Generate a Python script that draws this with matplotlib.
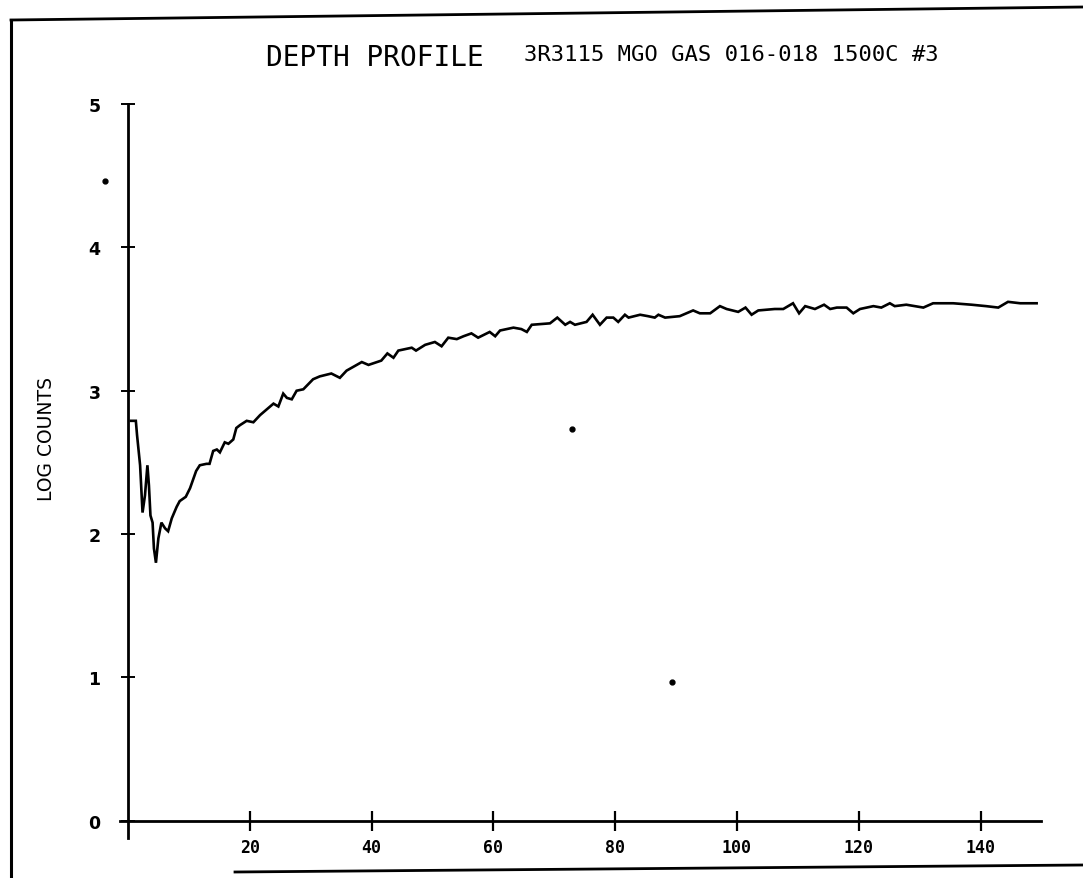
import matplotlib
matplotlib.use("Agg")
import matplotlib.pyplot as plt
from matplotlib.lines import Line2D

# ---- data ----
depth = [0.5, 1.3, 1.5, 2.0, 2.25, 2.4, 2.8, 3.2, 3.45, 3.7,
         4.05, 4.27, 4.6, 5.0, 5.5, 6.1, 6.6, 7.2, 8.0, 8.5,
         9.5, 10.2, 10.7, 11.2, 11.8, 12.9, 13.4, 14.0, 14.6, 15.1,
         15.9, 16.5, 17.3, 17.8, 18.4, 19.5, 20.6, 21.7, 22.8, 23.9,
         24.7, 25.5, 26.1, 26.9, 27.7, 28.8, 30.4, 31.5, 33.4, 34.8,
         35.9, 38.4, 39.5, 41.6, 42.6, 43.6, 44.4, 46.6, 47.3, 48.8,
         50.4, 51.5, 52.6, 54.0, 55.1, 56.4, 57.5, 59.4, 60.3, 61.1,
         63.3, 64.6, 65.5, 66.3, 69.3, 70.5, 71.8, 72.6, 73.4, 75.3,
         76.3, 77.5, 78.6, 79.7, 80.5, 81.6, 82.2, 84.1, 85.4, 86.5,
         87.1, 88.2, 90.6, 92.8, 93.9, 95.6, 97.2, 98.3, 100.2, 101.4,
         102.4, 103.5, 106.2, 107.6, 109.2, 110.2, 111.2, 112.8, 114.3, 115.3,
         116.4, 118.0, 119.1, 120.2, 122.4, 123.7, 125.1, 125.9, 127.8, 129.2,
         130.6, 132.2, 133.8, 135.5, 138.5, 140.9, 142.9, 144.5, 146.5, 149.2]

log_counts = [2.79, 2.79, 2.69, 2.48, 2.27, 2.15, 2.27, 2.48, 2.34, 2.13,
              2.08, 1.90, 1.80, 1.97, 2.08, 2.04, 2.02, 2.11, 2.19, 2.23,
              2.26, 2.32, 2.38, 2.44, 2.48, 2.49, 2.49, 2.58, 2.59, 2.57,
              2.64, 2.63, 2.66, 2.74, 2.76, 2.79, 2.78, 2.83, 2.87, 2.91,
              2.89, 2.98, 2.95, 2.94, 3.00, 3.01, 3.08, 3.10, 3.12, 3.09,
              3.14, 3.20, 3.18, 3.21, 3.26, 3.23, 3.28, 3.30, 3.28, 3.32,
              3.34, 3.31, 3.37, 3.36, 3.38, 3.40, 3.37, 3.41, 3.38, 3.42,
              3.44, 3.43, 3.41, 3.46, 3.47, 3.51, 3.46, 3.48, 3.46, 3.48,
              3.53, 3.46, 3.51, 3.51, 3.48, 3.53, 3.51, 3.53, 3.52, 3.51,
              3.53, 3.51, 3.52, 3.56, 3.54, 3.54, 3.59, 3.57, 3.55, 3.58,
              3.53, 3.56, 3.57, 3.57, 3.61, 3.54, 3.59, 3.57, 3.60, 3.57,
              3.58, 3.58, 3.54, 3.57, 3.59, 3.58, 3.61, 3.59, 3.60, 3.59,
              3.58, 3.61, 3.61, 3.61, 3.60, 3.59, 3.58, 3.62, 3.61, 3.61]

# stray specks on the scanned plot
speck_x = [-3.8, 72.9, 89.3]
speck_y = [4.46, 2.73, 0.97]

x_ticks = [20, 40, 60, 80, 100, 120, 140]
y_ticks = [0, 1, 2, 3, 4, 5]

title_main = "DEPTH PROFILE"
title_sub = "3R3115 MGO GAS 016-018 1500C #3"
y_label = "LOG COUNTS"

# ---- figure ----
W, H = 1083, 879
fig = plt.figure(figsize=(W / 100, H / 100), dpi=100)
fig.patch.set_facecolor("white")

left_px, right_px, top_px, bot_px = 120, 1041.5, 105, 839
ax = fig.add_axes([left_px / W, 1 - bot_px / H,
                   (right_px - left_px) / W, (bot_px - top_px) / H])
ax.set_xlim(-1.3, 150)
ax.set_ylim(-0.12, 5)

for s in ["top", "right"]:
    ax.spines[s].set_visible(False)
ax.spines["left"].set_position(("data", 0))
ax.spines["bottom"].set_position(("data", 0))
ax.spines["left"].set_linewidth(2.0)
ax.spines["bottom"].set_linewidth(2.0)

ax.plot(depth, log_counts, color="black", lw=1.9, solid_joinstyle="miter")
ax.plot(speck_x, speck_y, linestyle="none", marker="o", ms=3.5,
        color="black", clip_on=False)

ax.set_xticks(x_ticks)
ax.set_yticks(y_ticks)
ax.tick_params(axis="x", direction="inout", length=15, width=1.6, pad=5,
               labelsize=12)
ax.tick_params(axis="y", direction="inout", length=9.5, width=1.4, pad=15,
               labelsize=12.5)
for lab in ax.get_xticklabels():
    lab.set_fontfamily("DejaVu Sans Mono")
    lab.set_fontweight("bold")
for lab in ax.get_yticklabels():
    lab.set_fontfamily("DejaVu Sans")
    lab.set_fontweight("bold")

fig.text(46 / W, 1 - 439 / H, y_label, rotation=90, ha="center", va="center",
         fontsize=13.5, family="DejaVu Sans")

fig.text(266 / W, 1 - 58 / H, title_main, ha="left", va="center",
         fontsize=20, family="DejaVu Sans Mono")
fig.text(524 / W, 1 - 55 / H, title_sub, ha="left", va="center",
         fontsize=16, family="DejaVu Sans Mono")

# scanned page frame
fig.add_artist(Line2D([11 / W, 11 / W], [1 - 879 / H, 1 - 21 / H],
                      transform=fig.transFigure, color="black", lw=2.2))
fig.add_artist(Line2D([11 / W, 1.0], [1 - 21 / H, 1 - 8 / H],
                      transform=fig.transFigure, color="black", lw=2.0))
fig.add_artist(Line2D([235 / W, 1.0], [1 - 873 / H, 1 - 866 / H],
                      transform=fig.transFigure, color="black", lw=2.0))

fig.savefig("out.png", dpi=100, facecolor="white")
